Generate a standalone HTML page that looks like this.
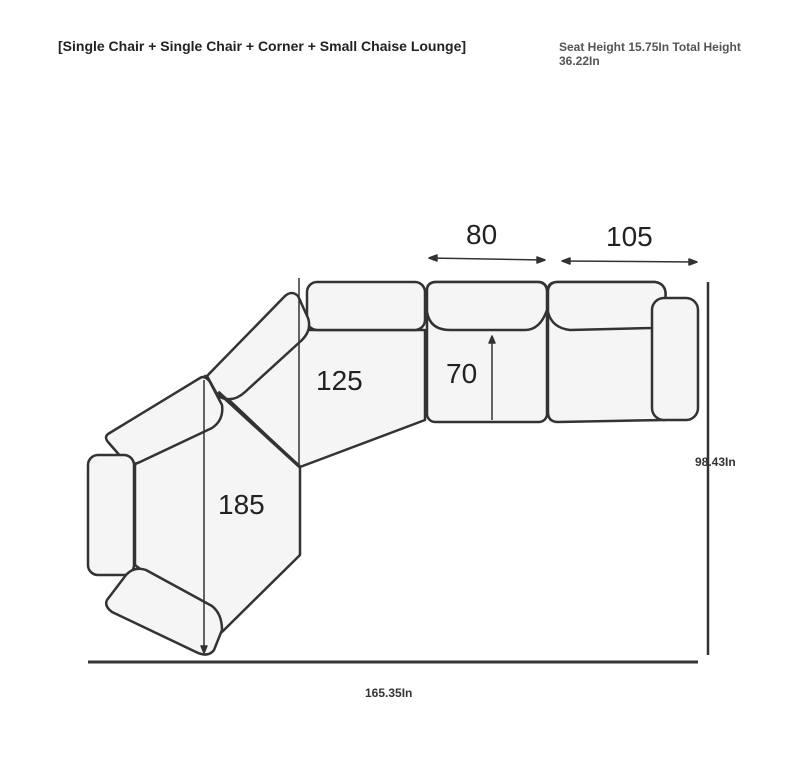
<!DOCTYPE html>
<html><head><meta charset="utf-8"><style>
body{margin:0;background:#fff;width:800px;height:780px;overflow:hidden;position:relative;font-family:"Liberation Sans",sans-serif}
.t{position:absolute;font-weight:bold;color:#222}
</style></head><body>
<div class="t" style="left:58px;top:38px;font-size:14px">[Single Chair + Single Chair + Corner + Small Chaise Lounge]</div>
<div class="t" style="left:559px;top:40px;font-size:12px;color:#555;line-height:14px;width:200px">Seat Height 15.75In Total Height<br>36.22In</div>
<div class="t" style="left:695px;top:455px;font-size:12px;color:#333">98.43In</div>
<div class="t" style="left:365px;top:686px;font-size:12px;color:#333">165.35In</div>
<svg width="800" height="780" style="position:absolute;left:0;top:0" fill="#f5f5f5" stroke="#333" stroke-width="2.5" stroke-linejoin="round">
<!-- corner seat -->
<path d="M205,376 L300,467 L300,555 L222,632 L135,565 L135,465 Z"/>
<!-- left chair seat -->
<path d="M210,382 L300,300 L310,330 L425,330 L425,420 L300,467 Z"/>
<rect x="307" y="282" width="118" height="48" rx="10"/>
<path d="M207,376 L285,296 Q292,290 298,296 L308,318 Q312,330 302,340 L245,392 Q232,404 218,396 Z"/>
<!-- corner cushions -->
<path d="M108,434 L200,378 Q205,375 210,382 L222,405 Q224,420 212,428 L140,462 Q130,467 122,458 L108,442 Q104,437 108,434 Z"/>
<rect x="88" y="455" width="46" height="120" rx="10"/>
<path d="M107,600 L126,575 Q134,566 146,570 L212,606 Q222,614 222,630 L214,650 Q208,658 196,652 L112,612 Q104,606 107,600 Z"/>
<!-- middle chair -->
<rect x="427" y="282" width="120" height="140" rx="8"/>
<path d="M427,290 Q427,282 437,282 L537,282 Q547,282 547,292 L547,310 Q540,330 525,330 L450,330 Q430,330 427,312 Z"/>
<!-- right chaise -->
<path d="M548,290 Q548,282 558,282 L655,282 Q668,284 665,300 L665,420 L558,422 Q548,422 548,412 Z"/>
<path d="M548,292 Q548,282 558,282 L655,282 Q668,284 665,300 L652,328 L570,330 Q552,328 548,312 Z"/>
<rect x="652" y="298" width="46" height="122" rx="12"/>
<path d="M218,392 L300,467" stroke-width="3.5" fill="none"/>
<!-- dimension lines -->
<g stroke="#333" stroke-width="1.5" fill="#333">
<line x1="204" y1="380" x2="204" y2="653"/>
<line x1="299" y1="278" x2="299" y2="465"/>
<line x1="492" y1="336" x2="492" y2="420"/>
<line x1="429" y1="258" x2="545" y2="260"/>
<line x1="562" y1="261" x2="697" y2="262"/>
<path d="M429,258 l8,-3 v6 z M545,260 l-8,-3 v6 z M562,261 l8,-3 v6 z M697,262 l-8,-3 v6 z M492,336 l-3,7 h6 z M204,653 l-3,-7 h6 z"/>
</g>
<line x1="708" y1="282" x2="708" y2="655" stroke-width="2.5"/>
<line x1="88" y1="662" x2="698" y2="662" stroke-width="3"/>
<g fill="#222" stroke="none" font-family="Liberation Sans,sans-serif" font-size="28">
<text x="466" y="244">80</text>
<text x="606" y="246">105</text>
<text x="446" y="383">70</text>
<text x="316" y="390">125</text>
<text x="218" y="514">185</text>
</g>
</svg>
</body></html>
